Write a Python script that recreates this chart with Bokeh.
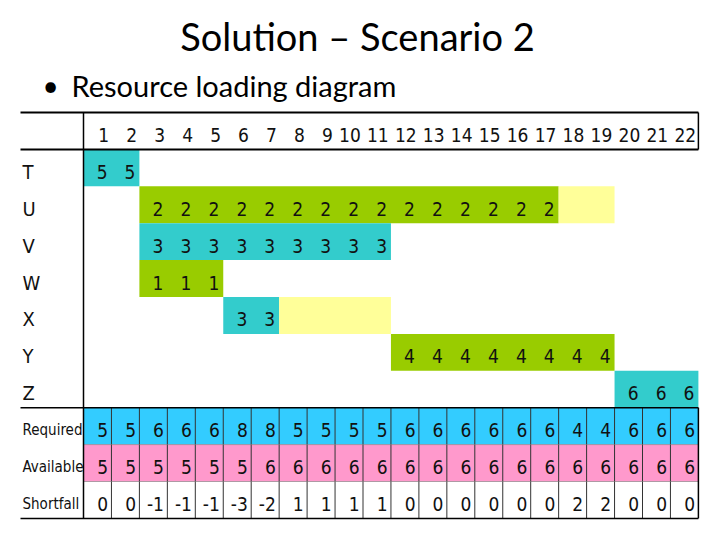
from bokeh.plotting import figure
from bokeh.models import Range1d
from bokeh.core.properties import value
from bokeh.embed import file_html
from bokeh.resources import INLINE

# ---------------- data ----------------
periods = list(range(1, 23))
activities = ["T", "U", "V", "W", "X", "Y", "Z"]
act_start = [1, 3, 3, 3, 6, 12, 20]
act_end = [2, 17, 11, 5, 7, 19, 22]
act_load = [5, 2, 3, 1, 3, 4, 6]
act_kind = ["teal", "green", "teal", "green", "teal", "green", "teal"]
float_activity = ["U", "X"]
float_start = [18, 8]
float_end = [19, 11]
summary_rows = ["Required", "Available", "Shortfall"]
required = [5, 5, 6, 6, 6, 8, 8, 5, 5, 5, 5, 6, 6, 6, 6, 6, 6, 4, 4, 6, 6, 6]
available = [5, 5, 5, 5, 5, 5, 6, 6, 6, 6, 6, 6, 6, 6, 6, 6, 6, 6, 6, 6, 6, 6]
shortfall = [0, 0, -1, -1, -1, -3, -2, 1, 1, 1, 1, 0, 0, 0, 0, 0, 0, 2, 2, 0, 0, 0]
title_text = "Solution – Scenario 2"
bullet_text = "Resource loading diagram"

# ---------------- styling / layout ----------------
COLORS = {"teal": "#33CCCC", "green": "#99CC00", "float": "#FFFF99",
          "Required": "#33CCFF", "Available": "#FF99CC", "Shortfall": "#FFFFFF"}
NARROW = value("DejaVu Sans Condensed")
TITLE_FONT = value("Lato")
CW, X0 = 27.95, 83.0     # column width (px) and left table boundary
RH, Y0 = 36.9, 112.0     # row height (px) and top table boundary


def dx(px):
    return (px - X0) / CW


def dy(py):
    return (py - Y0) / RH


n = len(periods)
row_of = {a: i + 1 for i, a in enumerate(activities)}
for i, s in enumerate(summary_rows):
    row_of[s] = len(activities) + 1 + i
last_row = len(activities) + len(summary_rows) + 1
TXT_OFF = 0.5 + 4.0 / RH

p = figure(width=704, height=524, x_range=Range1d(dx(0), dx(704)),
           y_range=Range1d(dy(524), dy(0)), output_backend="svg",
           toolbar_location=None, min_border=0)
p.axis.visible = False
p.grid.visible = False
p.outline_line_color = None
p.background_fill_color = "white"
p.border_fill_color = "white"

# summary row fills
for s in summary_rows[:2]:
    r = row_of[s]
    p.quad(left=[0], right=[n], top=[r], bottom=[r + 1],
           fill_color=COLORS[s], line_color=None)

# activity bars
p.quad(left=[s - 1 for s in act_start], right=act_end,
       top=[row_of[a] for a in activities],
       bottom=[row_of[a] + 1 for a in activities],
       fill_color=[COLORS[k] for k in act_kind], line_color=None)
# float bars
p.quad(left=[s - 1 for s in float_start], right=float_end,
       top=[row_of[a] for a in float_activity],
       bottom=[row_of[a] + 1 for a in float_activity],
       fill_color=COLORS["float"], line_color=None)

TXT = dict(text_baseline="middle", text_font=NARROW, text_font_size="19px",
           text_color="#111111")

# activity numbers
ax, ay, at = [], [], []
for a, s, e, l in zip(activities, act_start, act_end, act_load):
    for c in range(s, e + 1):
        ax.append(c - 0.14)
        ay.append(row_of[a] + TXT_OFF)
        at.append(str(l))
p.text(x=ax, y=ay, text=at, text_align="right", **TXT)

# header numbers
p.text(x=[c - 0.08 for c in periods], y=[TXT_OFF] * n,
       text=[str(c) for c in periods], text_align="right", **TXT)

# summary numbers
sx, sy, st = [], [], []
for s, vals in zip(summary_rows, [required, available, shortfall]):
    for c, v in zip(periods, vals):
        sx.append(c - 0.12)
        sy.append(row_of[s] + TXT_OFF)
        st.append(str(v))
p.text(x=sx, y=sy, text=st, text_align="right", **TXT)

# row labels
labels = activities + summary_rows
p.text(x=[dx(22)] * len(labels), y=[row_of[l] + TXT_OFF for l in labels],
       text=labels, text_align="left", text_baseline="middle",
       text_font=NARROW,
       text_font_size=["20px"] * len(activities) + ["15px"] * len(summary_rows),
       text_color="#111111")

# grid lines of the summary block
p.segment(x0=list(range(1, n)), x1=list(range(1, n)),
          y0=[row_of["Required"]] * (n - 1), y1=[last_row] * (n - 1),
          line_color="#333333", line_width=1)
p.segment(x0=[0, 0], x1=[n, n], y0=[row_of["Available"], row_of["Shortfall"]],
          y1=[row_of["Available"], row_of["Shortfall"]],
          line_color="#777777", line_width=0.6)
# right borders
p.segment(x0=[n, n], x1=[n, n], y0=[0, row_of["Required"]], y1=[1, last_row],
          line_color="black", line_width=1.5)
# left divider
p.segment(x0=[0], x1=[0], y0=[0], y1=[last_row], line_color="black",
          line_width=1.5)
# horizontal rules
hy = [0, 1, row_of["Required"], last_row]
p.segment(x0=[dx(20)] * 4, x1=[n] * 4, y0=hy, y1=hy, line_color="black",
          line_width=[2, 2, 1.5, 1.5])

# title and bullet
p.text(x=[dx(357)], y=[dy(35)], text=[title_text], text_align="center",
       text_baseline="middle", text_font=TITLE_FONT, text_font_size="38px",
       text_color="black")
p.text(x=[dx(50)], y=[dy(84)], text=["•"], text_align="center",
       text_baseline="middle", text_font=TITLE_FONT, text_font_size="28px",
       text_color="black")
p.text(x=[dx(71)], y=[dy(85)], text=[bullet_text], text_align="left",
       text_baseline="middle", text_font=TITLE_FONT, text_font_size="29px",
       text_color="black")

open("out.html", "w").write(file_html(p, INLINE))
